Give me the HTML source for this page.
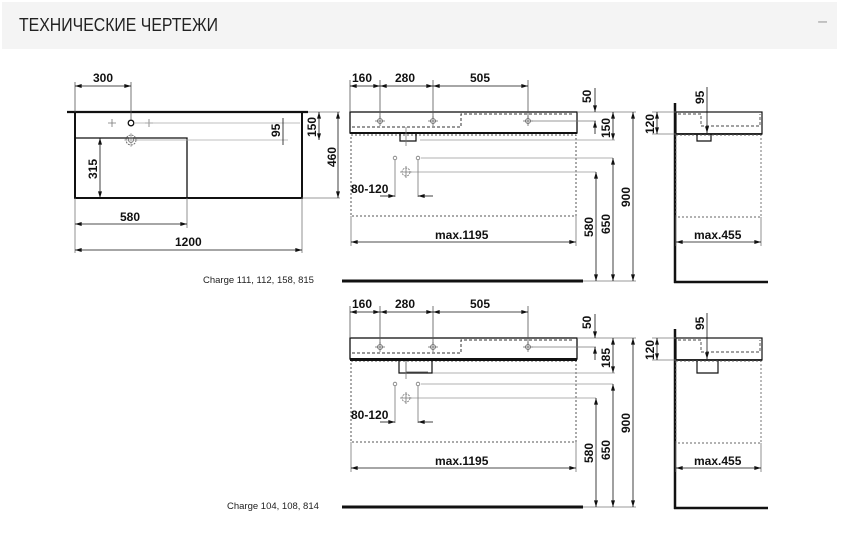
<!DOCTYPE html>
<html><head><meta charset="utf-8"><style>
html,body{margin:0;padding:0;background:#fff;width:844px;height:554px;overflow:hidden}
.hdr{position:absolute;left:2px;top:2px;width:835px;height:47px;background:#f4f4f4}
.hdr span{position:absolute;left:17px;top:13px;font:18px "Liberation Sans",sans-serif;color:#222;transform:scaleX(0.88);transform-origin:left}
.hdr b{position:absolute;right:10px;top:11px;font:16px "Liberation Sans",sans-serif;color:#999;font-weight:normal}
svg{position:absolute;left:0;top:0}
.t{font-family:"Liberation Sans",sans-serif;font-weight:bold;font-size:12px;fill:#111}
.c{font-family:"Liberation Sans",sans-serif;font-size:9.5px;fill:#222}
</style></head><body>
<div class="hdr"><span>ТЕХНИЧЕСКИЕ ЧЕРТЕЖИ</span><b>–</b></div>
<svg width="844" height="554" viewBox="0 0 844 554">
<defs>
<marker id="a" viewBox="0 0 10 6" refX="10" refY="3" markerWidth="8" markerHeight="4" orient="auto-start-reverse" markerUnits="userSpaceOnUse"><path d="M0,0L10,3L0,6z" fill="#111"/></marker>
<g id="front">
 <rect x="350" y="112" width="227" height="21" fill="none" stroke="#111" stroke-width="1.3"/>
 <line x1="350" y1="133" x2="577" y2="133" stroke="#111" stroke-width="2"/>
 <path d="M352,127H461V114H574" fill="none" stroke="#333" stroke-width="1" stroke-dasharray="3,2"/>
 <g stroke="#666" stroke-width="0.8" fill="none">
  <circle cx="380" cy="121" r="2.5"/><circle cx="433" cy="121" r="2.5"/><circle cx="528" cy="121" r="2.5"/>
  <path d="M375,121h10M380,116v10M428,121h10M433,116v10M523,121h10M528,116v10"/>
 </g>
 <rect x="351" y="135" width="225" height="81" fill="none" stroke="#555" stroke-width="1" stroke-dasharray="2,2"/>
 <g stroke="#777" stroke-width="0.8" fill="none">
  <circle cx="395" cy="158" r="1.8"/><circle cx="418" cy="158" r="1.8"/>
  <circle cx="406" cy="172" r="4" stroke-dasharray="2,1"/>
  <path d="M400,172h12M406,166v12"/>
 </g>
 <line x1="421" y1="158" x2="613" y2="158" stroke="#999" stroke-width="0.8"/>
 <line x1="411" y1="172" x2="596" y2="172" stroke="#999" stroke-width="0.8"/>
 <line x1="395" y1="160" x2="395" y2="197" stroke="#777" stroke-width="0.8"/>
 <line x1="418" y1="160" x2="418" y2="197" stroke="#777" stroke-width="0.8"/>
 <line x1="380" y1="196" x2="395" y2="196" stroke="#111" stroke-width="0.8" marker-end="url(#a)"/>
 <line x1="433" y1="196" x2="418" y2="196" stroke="#111" stroke-width="0.8" marker-end="url(#a)"/>
 <text class="t" x="351" y="193">80-120</text>
 <g stroke="#555" stroke-width="0.8">
  <line x1="350" y1="80" x2="350" y2="112"/><line x1="380" y1="80" x2="380" y2="118"/>
  <line x1="433" y1="80" x2="433" y2="118"/><line x1="528" y1="80" x2="528" y2="118"/>
 </g>
 <g stroke="#111" stroke-width="0.8">
  <line x1="350" y1="86" x2="380" y2="86" marker-start="url(#a)" marker-end="url(#a)"/>
  <line x1="380" y1="86" x2="433" y2="86" marker-start="url(#a)" marker-end="url(#a)"/>
  <line x1="433" y1="86" x2="528" y2="86" marker-start="url(#a)" marker-end="url(#a)"/>
 </g>
 <text class="t" x="352" y="82">160</text><text class="t" x="395" y="82">280</text><text class="t" x="470" y="82">505</text>
 <g stroke="#777" stroke-width="0.8">
  <line x1="577" y1="112" x2="636" y2="112"/>
  <line x1="532" y1="121" x2="596" y2="121"/>
  <line x1="580" y1="281" x2="636" y2="281"/>
 </g>
 <g stroke="#111" stroke-width="0.8">
  <line x1="595" y1="88" x2="595" y2="112" marker-end="url(#a)"/>
  <line x1="595" y1="134" x2="595" y2="121" marker-end="url(#a)"/>
  <line x1="633" y1="112" x2="633" y2="281" marker-start="url(#a)" marker-end="url(#a)"/>
  <line x1="613" y1="158" x2="613" y2="281" marker-start="url(#a)" marker-end="url(#a)"/>
  <line x1="596" y1="172" x2="596" y2="281" marker-start="url(#a)" marker-end="url(#a)"/>
 </g>
 <text class="t" transform="translate(591,103) rotate(-90)">50</text>
 <text class="t" transform="translate(630,207) rotate(-90)">900</text>
 <text class="t" transform="translate(610,234) rotate(-90)">650</text>
 <text class="t" transform="translate(593,237) rotate(-90)">580</text>
 <line x1="351" y1="216" x2="351" y2="246" stroke="#777" stroke-width="0.8"/>
 <line x1="576" y1="216" x2="576" y2="246" stroke="#777" stroke-width="0.8"/>
 <line x1="351" y1="242" x2="576" y2="242" stroke="#111" stroke-width="0.8" marker-start="url(#a)" marker-end="url(#a)"/>
 <text class="t" x="435" y="239">max.1195</text>
 <line x1="342" y1="281" x2="583" y2="281" stroke="#111" stroke-width="3"/>
 <line x1="675" y1="103" x2="675" y2="283" stroke="#111" stroke-width="2.5"/>
 <line x1="674" y1="282" x2="768" y2="282" stroke="#111" stroke-width="2.5"/>
 <rect x="676" y="112" width="86" height="22" fill="none" stroke="#111" stroke-width="1.2"/>
 <line x1="676" y1="134" x2="762" y2="134" stroke="#111" stroke-width="1.8"/>
 <path d="M678,114H701V126H760V114" fill="none" stroke="#444" stroke-width="0.9" stroke-dasharray="3,2"/>
 <rect x="676" y="135" width="85" height="82" fill="none" stroke="#666" stroke-width="0.9" stroke-dasharray="2,2"/>
 <line x1="707" y1="87" x2="707" y2="133" stroke="#111" stroke-width="0.8" marker-end="url(#a)"/>
 <text class="t" transform="translate(704,104) rotate(-90)">95</text>
 <line x1="652" y1="112" x2="676" y2="112" stroke="#777" stroke-width="0.8"/>
 <line x1="652" y1="134" x2="676" y2="134" stroke="#777" stroke-width="0.8"/>
 <line x1="657" y1="112" x2="657" y2="134" stroke="#111" stroke-width="0.8" marker-start="url(#a)" marker-end="url(#a)"/>
 <text class="t" transform="translate(654,134) rotate(-90)">120</text>
 <line x1="676" y1="217" x2="676" y2="246" stroke="#777" stroke-width="0.8"/>
 <line x1="761" y1="217" x2="761" y2="246" stroke="#777" stroke-width="0.8"/>
 <line x1="676" y1="242" x2="761" y2="242" stroke="#111" stroke-width="0.8" marker-start="url(#a)" marker-end="url(#a)"/>
 <text class="t" x="694" y="239">max.455</text>
</g>
</defs>

<line x1="67" y1="112" x2="308" y2="112" stroke="#111" stroke-width="2.2"/>
<rect x="75" y="112" width="227" height="86" fill="none" stroke="#111" stroke-width="2"/>
<path d="M75,138H187V198" fill="none" stroke="#111" stroke-width="1.3"/>
<circle cx="131" cy="123" r="2.8" fill="none" stroke="#111" stroke-width="1.3"/>
<path d="M108,123h8M112,119v8M145,123h8M149,119v8" stroke="#777" stroke-width="0.8"/>
<line x1="134" y1="123" x2="300" y2="123" stroke="#aaa" stroke-width="0.8"/>
<circle cx="131" cy="140" r="5" fill="none" stroke="#666" stroke-width="0.9" stroke-dasharray="2,1"/>
<circle cx="131" cy="140" r="2.5" fill="none" stroke="#666" stroke-width="0.8"/>
<path d="M124,140h14M131,133v14" stroke="#888" stroke-width="0.6"/>
<line x1="137" y1="140" x2="288" y2="140" stroke="#aaa" stroke-width="0.8"/>
<line x1="75" y1="82" x2="75" y2="112" stroke="#555" stroke-width="0.8"/>
<line x1="131" y1="82" x2="131" y2="120" stroke="#555" stroke-width="0.8"/>
<line x1="75" y1="86" x2="131" y2="86" stroke="#111" stroke-width="0.8" marker-start="url(#a)" marker-end="url(#a)"/>
<text class="t" x="93" y="82">300</text>
<line x1="283" y1="118" x2="283" y2="145" stroke="#111" stroke-width="0.8"/>
<text class="t" transform="translate(280,137) rotate(-90)">95</text>
<line x1="308" y1="112" x2="340" y2="112" stroke="#777" stroke-width="0.8"/>
<line x1="302" y1="198" x2="340" y2="198" stroke="#777" stroke-width="0.8"/>
<line x1="319" y1="112" x2="319" y2="140" stroke="#111" stroke-width="0.8" marker-start="url(#a)" marker-end="url(#a)"/>
<text class="t" transform="translate(316,137) rotate(-90)">150</text>
<line x1="338" y1="112" x2="338" y2="198" stroke="#111" stroke-width="0.8" marker-start="url(#a)" marker-end="url(#a)"/>
<text class="t" transform="translate(336,167) rotate(-90)">460</text>
<line x1="100" y1="138" x2="100" y2="198" stroke="#111" stroke-width="0.8" marker-start="url(#a)" marker-end="url(#a)"/>
<text class="t" transform="translate(97,179) rotate(-90)">315</text>
<line x1="75" y1="198" x2="75" y2="253" stroke="#777" stroke-width="0.8"/>
<line x1="187" y1="198" x2="187" y2="228" stroke="#777" stroke-width="0.8"/>
<line x1="302" y1="198" x2="302" y2="253" stroke="#777" stroke-width="0.8"/>
<line x1="75" y1="224" x2="187" y2="224" stroke="#111" stroke-width="0.8" marker-start="url(#a)" marker-end="url(#a)"/>
<text class="t" x="120" y="221">580</text>
<line x1="75" y1="250" x2="302" y2="250" stroke="#111" stroke-width="0.8" marker-start="url(#a)" marker-end="url(#a)"/>
<text class="t" x="175" y="246">1200</text>
<text class="c" x="203" y="283">Charge 111, 112, 158, 815</text>

<use href="#front"/>
<line x1="613" y1="112" x2="613" y2="140" stroke="#111" stroke-width="0.8" marker-start="url(#a)" marker-end="url(#a)"/>
<text class="t" transform="translate(610,138) rotate(-90)">150</text>
<line x1="420" y1="140" x2="615" y2="140" stroke="#999" stroke-width="0.8"/>
<path d="M400,133V141H416V133" fill="none" stroke="#111" stroke-width="1.2"/>
<line x1="406" y1="127" x2="406" y2="146" stroke="#777" stroke-width="0.8"/>
<path d="M697,134V141H711V134" fill="none" stroke="#111" stroke-width="1.2"/>

<g transform="translate(0,226)"><use href="#front"/></g>
<line x1="350" y1="360" x2="577" y2="360" stroke="#111" stroke-width="2"/>
<line x1="613" y1="338" x2="613" y2="373" stroke="#111" stroke-width="0.8" marker-start="url(#a)" marker-end="url(#a)"/>
<text class="t" transform="translate(610,368) rotate(-90)">185</text>
<line x1="432" y1="373" x2="615" y2="373" stroke="#999" stroke-width="0.8"/>
<path d="M399,361V373H432V361" fill="none" stroke="#111" stroke-width="1.2"/>
<path d="M406,361V372H428" fill="none" stroke="#444" stroke-width="0.8"/>
<line x1="406" y1="361" x2="406" y2="379" stroke="#777" stroke-width="0.8"/>
<path d="M697,361V373H718V361" fill="none" stroke="#111" stroke-width="1.2"/>
<text class="c" x="227" y="509">Charge 104, 108, 814</text>
</svg>
</body></html>
